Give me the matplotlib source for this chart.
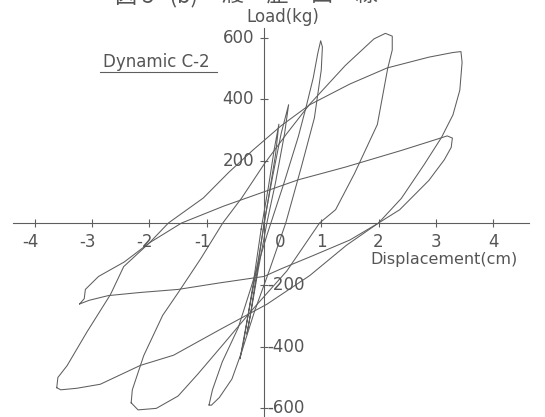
import matplotlib
matplotlib.use('Agg')
import matplotlib.pyplot as plt
from matplotlib.lines import Line2D

plt.rcParams['font.family'] = ['DejaVu Sans']

# --- data (displacement cm, load kg) ---
# small elastic cycles near the origin
e1_disp = [0.0, 0.15, 0.30, 0.43, 0.36, 0.20, 0.05, -0.10, -0.22, -0.30, -0.24, -0.10, 0.0]
e1_load = [0, 150, 290, 383, 290, 130, 0, -150, -280, -360, -300, -130, 0]
e2_disp = [-0.05, 0.08, 0.18, 0.26, 0.20, 0.06, -0.10, -0.28, -0.42, -0.36, -0.20, -0.05]
e2_load = [-20, 120, 240, 320, 220, 60, -120, -300, -440, -390, -210, -20]

# narrow cycle, about +-1 cm
sp_disp = [-0.96, -0.90, -0.73, -0.45, -0.22, 0.05, 0.35, 0.60, 0.74, 0.86, 0.94, 0.99,
           1.02, 1.00, 0.88, 0.65, 0.38, 0.10, -0.16, -0.39, -0.56, -0.78, -0.92, -0.96]
sp_load = [-589, -540, -450, -339, -205, -40, 130, 280, 379, 470, 550, 590,
           570, 495, 340, 180, 0, -150, -283, -417, -505, -565, -590, -589]

# cycle about +-2.3 cm
c_disp = [-2.32, -2.30, -2.10, -1.77, -1.49, -1.10, -0.72, -0.39, 0.0, 0.40, 0.80, 1.42, 1.92,
          2.12, 2.24, 2.24, 2.16, 1.98, 1.58, 1.25, 0.97, 0.40, -0.20, -0.70, -1.16, -1.50,
          -1.88, -2.20, -2.32]
c_load = [-582, -540, -429, -299, -223, -114, 0, 81, 190, 290, 385, 510, 596,
          614, 605, 560, 500, 319, 160, 43, 0, -155, -280, -390, -490, -560,
          -600, -605, -582]

# largest cycle, about +-3.5 cm
b_disp = [-3.62, -3.60, -3.44, -3.09, -2.68, -2.45, -2.00, -1.67, -1.06, -0.61, -0.20, 0.30,
          0.80, 1.50, 2.15, 2.88, 3.30, 3.44, 3.46, 3.42, 3.30, 3.10, 2.80, 2.40, 2.00, 1.44,
          0.80, 0.05, -0.77, -1.58, -2.16, -2.86, -3.27, -3.55, -3.62]
b_load = [-533, -500, -462, -352, -231, -141, -64, 0, 81, 165, 235, 315,
          383, 450, 502, 537, 552, 555, 520, 430, 350, 277, 190, 80, 0, -72,
          -170, -263, -345, -428, -461, -522, -535, -540, -533]

# degraded cycle, about +-3.2 cm
d_disp = [-3.22, -3.14, -3.12, -2.89, -2.44, -2.00, -1.44, -0.70, 0.0, 0.60, 1.42, 2.40, 2.93,
          3.20, 3.29, 3.27, 3.15, 2.88, 2.37, 2.00, 1.50, 0.85, 0.29, 0.0, -0.78, -1.50,
          -2.17, -2.72, -3.05, -3.22]
d_load = [-262, -245, -215, -173, -126, -64, 0, 55, 101, 140, 181, 235, 266,
          282, 275, 245, 205, 138, 43, 0, -55, -106, -149, -173, -194, -215,
          -225, -235, -250, -262]

x_ticks = [-4, -3, -2, -1, 1, 2, 3, 4]
x_labels = ['-4', '-3', '-2', '-1', '1', '2', '3', '4']
y_ticks = [600, 400, 200, -200, -400, -600]
y_labels = ['600', '400', '200', '-200', '-400', '-600']

ink = '#5e5e5e'
txt = '#555555'

fig = plt.figure(figsize=(5.45, 4.17), dpi=100)
ax = fig.add_axes([0, 0, 1, 1])
ax.set_xlim(-4.611, 4.908)
ax.set_ylim(-628, 722)

for xs, ys in [(e1_disp, e1_load), (e2_disp, e2_load), (sp_disp, sp_load),
               (c_disp, c_load), (b_disp, b_load), (d_disp, d_load)]:
    ax.plot(xs, ys, color=ink, lw=0.75)

# axes through the origin
for s in ['top', 'right']:
    ax.spines[s].set_visible(False)
ax.spines['left'].set_position(('data', 0))
ax.spines['bottom'].set_position(('data', 0))
ax.spines['left'].set_bounds(-628, 631)
ax.spines['bottom'].set_bounds(-4.38, 4.63)
for s in ['left', 'bottom']:
    ax.spines[s].set_color(ink)
    ax.spines[s].set_linewidth(0.8)
ax.set_xticks(x_ticks)
ax.set_yticks(y_ticks)
ax.tick_params(direction='inout', length=6, width=0.8, colors=ink,
               labelbottom=False, labelleft=False)

for v, lab in zip(x_ticks, x_labels):
    off = -0.08 if v < 0 else 0.0
    ax.text(v + off, -60, lab, ha='center', va='center', fontsize=12, color=txt)
ax.text(0.28, -60, '0', ha='center', va='center', fontsize=12, color=txt)

for v, lab in zip(y_ticks, y_labels):
    if v > 0:
        ax.text(-0.175, v, lab, ha='right', va='center', fontsize=12, color=txt)
    else:
        ax.text(0.06, v, lab, ha='left', va='center', fontsize=12, color=txt)

ax.text(0.33, 667, 'Load(kg)', ha='center', va='center', fontsize=12, color=txt)
ax.text(1.85, -117, 'Displacement(cm)', ha='left', va='center', fontsize=11.5, color=txt)
dyn = ax.text(-2.81, 521, 'Dynamic C-2', ha='left', va='center', fontsize=12, color=txt)

# underline under the specimen name
fig.canvas.draw()
bb = dyn.get_window_extent()
inv = fig.transFigure.inverted()
(x0, y0), (x1, _) = inv.transform([(bb.x0 - 3, bb.y0 - 1), (bb.x1 + 7, bb.y0 - 1)])
fig.add_artist(Line2D([x0, x1], [y0, y0], transform=fig.transFigure, color=ink, lw=0.8))

# figure caption, cut off at the top edge of the scan
cjk = ['Noto Sans CJK JP', 'DejaVu Sans']
fig.text(115 / 545, 1 - 2 / 417, '図 5   (b)', family=cjk, fontsize=16,
         va='baseline', ha='left', color=txt)
fig.text(222 / 545, 1 - 2 / 417, '履\u3000歴\u3000曲\u3000線', family=cjk, fontsize=16,
         va='baseline', ha='left', color=txt)

fig.savefig('out.png', dpi=100, facecolor='white')
